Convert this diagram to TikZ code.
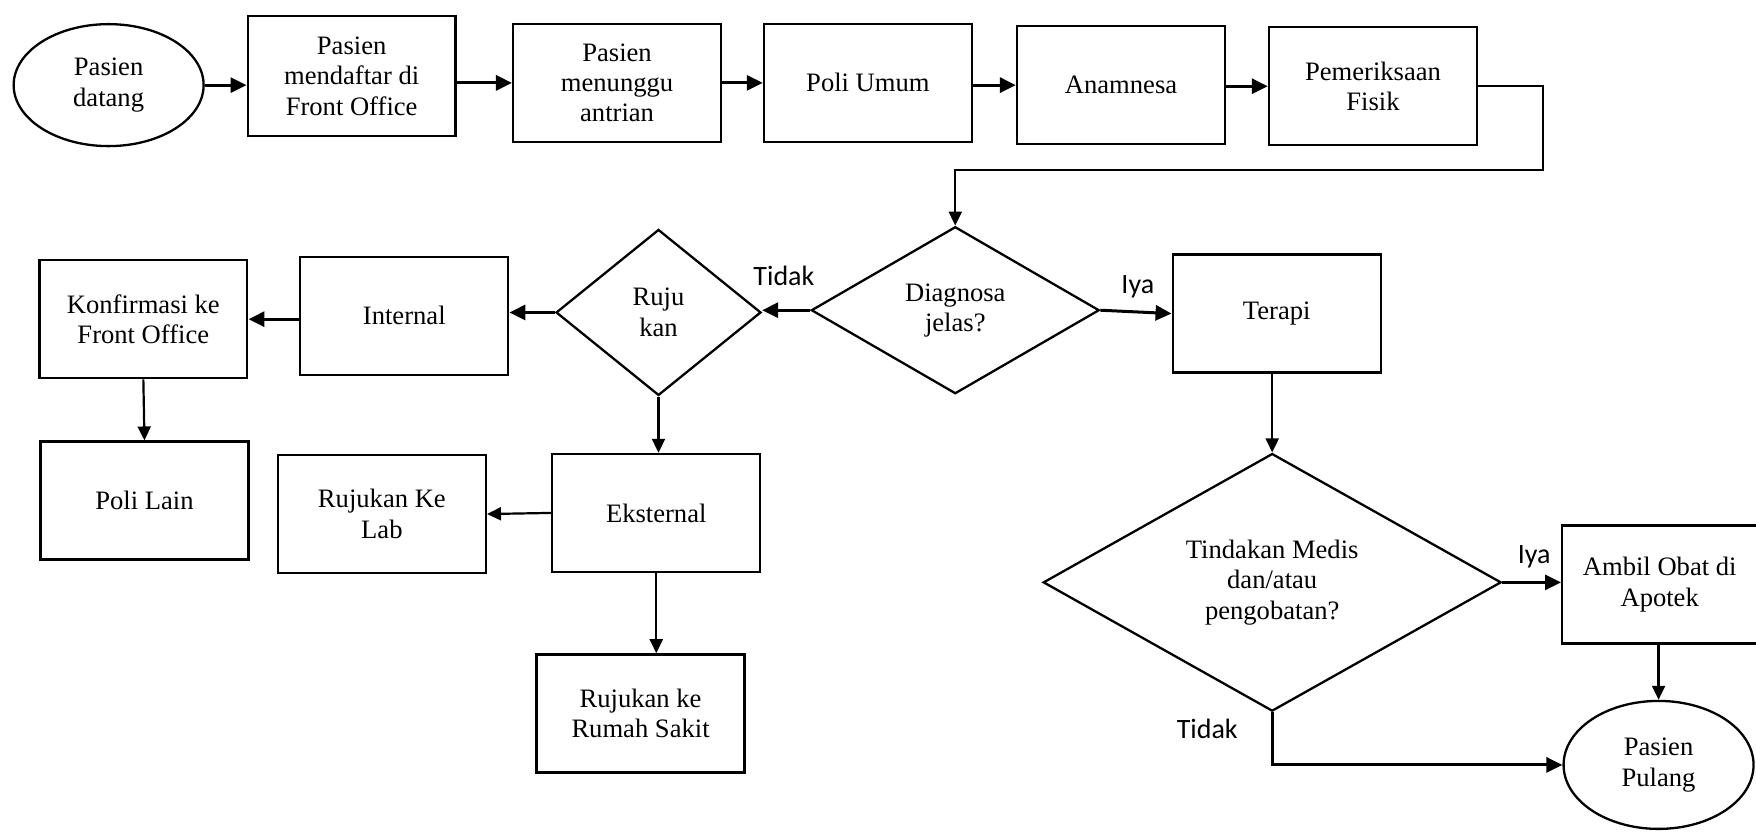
\documentclass[tikz,border=0pt]{standalone}
\usepackage{fontspec}
\setmainfont{Liberation Serif}
\newfontfamily\calibrifont{Carlito}
\usetikzlibrary{shapes.geometric,arrows.meta}
\begin{document}
\begin{tikzpicture}[x=0.56pt,y=-0.56pt,
  every node/.style={font=\fontsize{13.3}{15.2}\selectfont},
  box/.style={draw, line width=1.15pt, minimum width=104pt, minimum height=59pt, align=center, inner sep=2pt},
  oval/.style={draw, ellipse, line width=1.15pt, minimum width=95pt, minimum height=61pt, align=center, inner sep=0pt},
  dia/.style={draw, diamond, line width=1.15pt, align=center, inner sep=0pt},
  conn/.style={line width=1.1pt, -{Triangle[length=7pt,width=6.5pt]}},
  connb/.style={line width=1.5pt, -{Triangle[length=8pt,width=7.5pt]}},
  lbl/.style={font=\calibrifont\fontsize{14}{16}\selectfont, inner sep=0pt}]
\fill[white] (0,0) rectangle (1568,747);
\useasboundingbox (0,0) rectangle (1568,747);
% top row
\node[oval] (pd) at (97,76) {Pasien\\datang};
\node[box, minimum height=60pt] (reg) at (314,68) {Pasien\\mendaftar di\\Front Office};
\node[box] (wait) at (551,74) {Pasien\\menunggu\\antrian};
\node[box] (poli) at (775,74) {Poli Umum};
\node[box] (anam) at (1001,76) {Anamnesa};
\node[box] (fis) at (1226,77) {Pemeriksaan\\Fisik};
% middle
\node[dia, minimum width=144pt, minimum height=83.5pt] (diag) at (853,277) {Diagnosa\\jelas?};
\node[dia, minimum width=102.5pt, minimum height=83pt] (ruju) at (588,279) {Ruju\\kan};
\node[box] (terapi) at (1140,280) {Terapi};
\node[box] (internal) at (361,282) {Internal};
\node[box] (konf) at (128,285) {Konfirmasi ke\\Front Office};
\node[box] (polilain) at (129,447) {Poli Lain};
\node[box] (eks) at (586,458) {Eksternal};
\node[box] (lab) at (341,459) {Rujukan Ke\\Lab};
\node[box] (rs) at (572,637) {Rujukan ke\\Rumah Sakit};
\node[dia, minimum width=229pt, minimum height=126pt] (tind) at (1136,520) {Tindakan Medis\\dan/atau\\pengobatan?};
\node[box, minimum width=97.5pt] (ambil) at (1482,522) {Ambil Obat di\\Apotek};
\node[oval, minimum height=64pt] (pulang) at (1481,683) {Pasien\\Pulang};
% labels
\node[lbl] (l1) at (700,246) {Tidak};
\node[lbl] (l2) at (1016,256) {Iya};
\node[lbl] (l3) at (1370,497) {Iya};
\node[lbl] (l4) at (1078,651) {Tidak};
% connectors top row
\draw[connb] (pd.east) -- (pd.east -| reg.west);
\draw[connb] (reg.east |- wait) -- (wait.west);
\draw[connb] (wait.east |- poli) -- (poli.west);
\draw[connb] (poli.east |- anam) -- (anam.west);
\draw[connb] (anam.east |- fis) -- (fis.west);
\coordinate (c1) at (1378,152);
\draw[conn] (fis.east) -| (c1) -| (diag.north);
% middle
\draw[connb] (diag.west) -- (diag.west -| ruju.east);
\draw[connb] (diag.east) -- (terapi.west);
\draw[connb] (ruju.west) -- (ruju.west -| internal.east);
\draw[connb] (konf.east -| internal.west) -- (konf.east);
\draw[conn] (konf.south) -- (polilain.north);
\draw[conn] (ruju.south) -- (ruju.south |- eks.north);
\draw[conn] (eks.west) -- (lab.east);
\draw[conn] (eks.south) -- (eks.south |- rs.north);
\draw[conn] (terapi.south -| tind.north) -- (tind.north);
\draw[connb] (tind.east) -- (tind.east -| ambil.west);
\draw[conn] (ambil.south -| pulang.north) -- (pulang.north);
\draw[connb] (tind.south) |- (pulang.west);
\end{tikzpicture}
\end{document}
